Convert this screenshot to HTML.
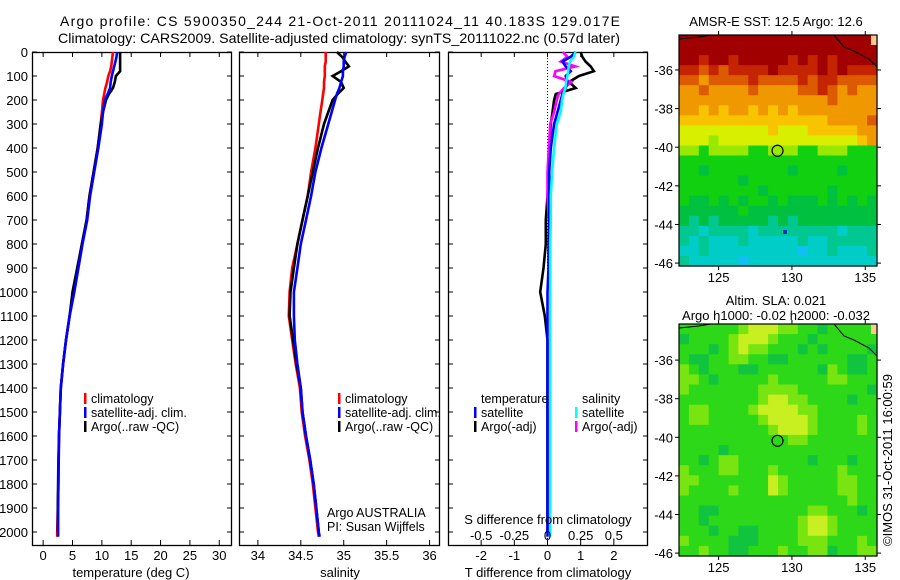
<!DOCTYPE html>
<html><head><meta charset="utf-8">
<style>
html,body{margin:0;padding:0;background:#fff;}
svg{display:block;font-family:"Liberation Sans",sans-serif;}
text{fill:#000;}
</style></head>
<body>
<svg id="fig" width="900" height="580" viewBox="0 0 900 580" xmlns="http://www.w3.org/2000/svg">
<text x="60" y="26" font-size="14" textLength="560" lengthAdjust="spacing">Argo profile: CS 5900350_244 21-Oct-2011 20111024_11 40.183S 129.017E</text>
<text x="58" y="43" font-size="14" textLength="562" lengthAdjust="spacingAndGlyphs">Climatology: CARS2009. Satellite-adjusted climatology: synTS_20111022.nc (0.57d later)</text>
<g id="plots"></g>
</svg>
<script>
// ---- data ----
const depths = [0,20,40,60,80,100,125,150,175,200,250,300,400,500,600,700,800,900,1000,1100,1200,1300,1400,1500,1600,1700,1800,1900,2000,2020];
const depthTicks = [0,100,200,300,400,500,600,700,800,900,1000,1100,1200,1300,1400,1500,1600,1700,1800,1900,2000];
const tempTicks = [0,5,10,15,20,25,30];
const salTicks = [34,34.5,35,35.5,36];
const salTickLabels = ["34","34.5","35","35.5","36"];
const tDiffTicks = [-2,-1,0,1,2];
const sDiffTicks = [-0.5,-0.25,0,0.25,0.5];
const sDiffTickLabels = ["-0.5","-0.25","0","0.25","0.5"];
const tClim = [11.9,11.8,11.7,11.6,11.4,11.1,10.9,10.6,10.4,10.2,10.0,9.8,9.3,8.6,7.9,7.4,6.6,5.9,5.2,4.5,3.9,3.4,3.0,2.85,2.7,2.65,2.6,2.5,2.4,2.4];
const tSat = [12.6,12.5,12.3,12.1,11.9,11.7,11.5,11.4,11.0,10.5,10.2,10.0,9.4,8.7,8.0,7.5,6.7,6.0,5.3,4.5,3.9,3.4,3.0,2.85,2.7,2.65,2.6,2.55,2.55,2.55];
const tArgo = [13.1,13.1,13.1,13.1,13.1,12.4,12.2,11.9,11.2,10.7,10.2,9.8,9.3,8.6,7.9,7.4,6.6,5.8,5.0,4.5,3.9,3.4,3.0,2.85,2.7,2.6,2.55,2.5,2.5,null];
const sClim = [34.79,34.79,34.79,34.78,34.78,34.78,34.77,34.77,34.76,34.75,34.73,34.71,34.67,34.62,34.58,34.52,34.46,34.40,34.37,34.36,34.40,34.44,34.49,34.51,34.55,34.60,34.64,34.67,34.70,34.71];
const sArgo = [34.92,34.98,35.02,35.06,34.97,34.87,34.97,35.0,34.93,34.87,34.82,34.77,34.70,34.64,34.58,34.52,34.46,34.42,34.38,34.37,34.41,34.45,34.50,34.52,34.56,34.61,34.65,34.68,34.71,null];
const sSat = [35.03,35.01,35.0,35.0,34.99,34.99,34.97,34.95,34.92,34.90,34.86,34.82,34.74,34.67,34.62,34.56,34.50,34.46,34.42,34.42,34.43,34.46,34.50,34.52,34.56,34.61,34.65,34.68,34.71,34.72];
const dTArgo = [1.0,1.05,1.15,1.3,1.4,0.95,0.65,0.85,0.25,0.2,0.15,0.1,0.05,0.03,0,-0.05,-0.05,-0.12,-0.22,-0.08,0,0,0,0,0,0,0,0,0,null];
const dTSat = [0.85,0.7,0.45,0.55,0.7,0.55,0.6,0.55,0.45,0.4,0.3,0.2,0.1,0.05,0.05,0.05,0.03,0.03,0,0,0,0,0,0,0,0,0,0,0,0];
const dSArgo = [0.115,0.15,0.1,0.21,0.06,0.05,0.18,0.125,0.085,0.07,0.05,0.02,0.01,0,0,0.01,0.02,0.02,0.02,0.02,0.02,0.02,0.02,0.02,0.02,0.02,0.02,0.02,0.02,null];
const dSSat = [0.21,0.2,0.17,0.16,0.155,0.15,0.14,0.135,0.12,0.11,0.1,0.07,0.05,0.035,0.025,0.025,0.02,0.02,0.02,0.02,0.02,0.02,0.02,0.02,0.02,0.02,0.02,0.02,0.02,0.02];
const lonTicks = [125,130,135];
const latTicks = [-36,-38,-40,-42,-44,-46];
const argoLon = 129.017, argoLat = -40.183;
const sstGrid = [
"00000000000000000000",
"00000000000000000000",
"00100100000101010000",
"11212111101111010111",
"22322221222212112222",
"33233332333322123233",
"33333333333333323333",
"33434334343433333333",
"44444444444444433332",
"55555555545554444433",
"55565555555555555543",
"66766667766677666777",
"77777777777777777777",
"77877777777877778777",
"77777787777777777777",
"77777777877777787777",
"78878787787888787878",
"88888878888888888888",
"89898888898988888888",
"99a9999a99999999a999",
"9a9aaa9aaaaa9aa99999",
"aa9aaaaaaaaabaa9aaa9",
"9aaaaabaaaaaaaaaaaaa"];
const slaGrid = [
"11111123332211011111",
"01111233321110111111",
"11101232211101011110",
"10011221100111111001",
"21011100111111021001",
"22101111121111122111",
"21111111222211111110",
"11111111233221111011",
"12211112333322111111",
"12211111233332111121",
"11111111123332111121",
"11111111111221111111",
"11110111111111111111",
"11012211111110111011",
"21112211121111112111",
"22111111132111112211",
"21111211132111112211",
"11111111111111111211",
"11001111111112211101",
"11011111111123321111",
"11101100111123321111",
"21111000111122211121",
"11211001112112201122"];

// ---- drawing ----
const NS="http://www.w3.org/2000/svg";
const root=document.getElementById('plots');
function el(tag,attrs,parent){const e=document.createElementNS(NS,tag);for(const k in attrs)e.setAttribute(k,attrs[k]);(parent||root).appendChild(e);return e;}
function txt(x,y,s,size,anchor,parent){const t=el('text',{x:x,y:y,'font-size':size,'text-anchor':anchor||'middle'},parent);t.textContent=s;return t;}

const Y0=52, Y1=545; const dMin=0;
function yD(d){return Y0+(d-dMin)*0.24;}

function panel(name,x0,x1,vmin,vmax){
  const g=el('g',{});
  
  
  const f=v=>x0+(v-vmin)/(vmax-vmin)*(x1-x0);
  const r=el('rect',{x:x0+0.5,y:Y0+0.5,width:x1-x0,height:Y1-Y0,fill:'none',stroke:'#000','stroke-width':1.3},g);
  
  
  depthTicks.forEach(d=>{
    el('line',{x1:x0,x2:x0+5,y1:yD(d),y2:yD(d),stroke:'#000'},g);
    el('line',{x1:x1-4,x2:x1+1,y1:yD(d),y2:yD(d),stroke:'#000'},g);
  });
  return {g,f};
}
function line(g,f,vals,color,name){
  let pts=[];
  vals.forEach((v,i)=>{if(v!==null)pts.push(f(v).toFixed(1)+','+yD(depths[i]).toFixed(1));});
  const p=el('polyline',{points:pts.join(' '),fill:'none',stroke:color,'stroke-width':2.6,'stroke-linejoin':'miter'},g);
  
  
}
function xticks(g,f,ticks,labels,y){
  ticks.forEach((t,i)=>{
    el('line',{x1:f(t),x2:f(t),y1:Y1,y2:Y1-5,stroke:'#000'},g);
    el('line',{x1:f(t),x2:f(t),y1:Y0,y2:Y0+5,stroke:'#000'},g);
    const l=txt(f(t),y,labels?labels[i]:String(t),13,'middle',g);
    
    
  });
}
function legendEntry(g,x,y,color,label,name){
  el('rect',{x:x,y:y-10,width:2.5,height:11,fill:color},g);
  const t=txt(x+7,y,label,12.5,'start',g);
  
  
}

// panel 1 temperature
const P1=panel('temperature-panel',32,231,-1.9,32.0);
line(P1.g,P1.f,tClim,'#ff0000','temp-climatology-line');
line(P1.g,P1.f,tArgo,'#000000','temp-argo-line');
line(P1.g,P1.f,tSat,'#0000ff','temp-satellite-line');
xticks(P1.g,P1.f,tempTicks,null,560);
depthTicks.forEach(d=>{const t=txt(28,yD(d)+5,String(d),13,'end',P1.g);
  
  });
const xt1=txt(131,577,'temperature (deg C)',13,'middle',P1.g);


legendEntry(P1.g,84,403,'#ff0000','climatology','legend-climatology');
legendEntry(P1.g,84,417,'#0000ff','satellite-adj. clim.','legend-satellite-adj');
legendEntry(P1.g,84,431,'#000000','Argo(..raw -QC)','legend-argo');

// panel 2 salinity
const P2=panel('salinity-panel',239,439,33.78,36.11);
line(P2.g,P2.f,sClim,'#ff0000','sal-climatology-line');
line(P2.g,P2.f,sArgo,'#000000','sal-argo-line');
line(P2.g,P2.f,sSat,'#0000ff','sal-satellite-line');
xticks(P2.g,P2.f,salTicks,salTickLabels,560);
const xt2=txt(340,577,'salinity',13,'middle',P2.g);


legendEntry(P2.g,338,403,'#ff0000','climatology','legend-climatology-2');
legendEntry(P2.g,338,417,'#0000ff','satellite-adj. clim.','legend-satellite-adj-2');
legendEntry(P2.g,338,431,'#000000','Argo(..raw -QC)','legend-argo-2');
const a1=txt(327,517,'Argo AUSTRALIA',12.5,'start',P2.g);


const a2=txt(327,531,'PI: Susan Wijffels',12.5,'start',P2.g);



// panel 3 differences
const P3=panel('difference-panel',448,647,-3,3);
const fS=v=>P3.f(v*4);
el('line',{x1:P3.f(0),x2:P3.f(0),y1:Y0,y2:Y1,stroke:'#000','stroke-dasharray':'1,2','stroke-width':1},P3.g);
line(P3.g,P3.f,dTArgo,'#000000','tdiff-argo-line');
line(P3.g,fS,dSArgo,'#ff00ff','sdiff-argo-line');
line(P3.g,P3.f,dTSat,'#0000ff','tdiff-satellite-line');
line(P3.g,fS,dSSat,'#00ffff','sdiff-satellite-line');
xticks(P3.g,P3.f,tDiffTicks,null,560);
sDiffTicks.forEach((t,i)=>{const l=txt(fS(t),540,sDiffTickLabels[i],13,'middle',P3.g);
  
  });
const st=txt(548,524,'S difference from climatology',13,'middle',P3.g);


const tt=txt(548,577,'T difference from climatology',13,'middle',P3.g);


const lt=txt(481,403,'temperature',12.5,'start',P3.g);


legendEntry(P3.g,474,417,'#0000ff','satellite','legend-t-satellite');
legendEntry(P3.g,474,431,'#000000','Argo(-adj)','legend-t-argo');
const ls=txt(582,403,'salinity',12.5,'start',P3.g);


legendEntry(P3.g,575,417,'#00ffff','satellite','legend-s-satellite');
legendEntry(P3.g,575,431,'#ff00ff','Argo(-adj)','legend-s-argo');

// maps
const sstColors={'0':'#a00000','1':'#c42400','2':'#dc5a00','3':'#f09800','4':'#f8c400','5':'#d8f000','6':'#98e800','7':'#10d010','8':'#00c040','9':'#00c890','a':'#00ccc8','b':'#10c0f0'};
const slaColors={'0':'#10c440','1':'#2cd818','2':'#78e410','3':'#c8f020'};
function map(name,grid,colors,top,bottom,latTop,latBot){
  const x0=679,x1=877,lonL=122.3,lonR=135.8;
  const g=el('g',{});
  
  
  const fx=v=>x0+(v-lonL)/(lonR-lonL)*(x1-x0);
  const fy=v=>top+(v-latTop)/(latBot-latTop)*(bottom-top);
  const rows=grid.length, cols=grid[0].length;
  const cw=(x1-x0)/cols, ch=(bottom-top)/rows;
  grid.forEach((row,r)=>{for(let c=0;c<cols;c++){
    el('rect',{x:(x0+c*cw).toFixed(2),y:(top+r*ch).toFixed(2),width:(cw+0.6).toFixed(2),height:(ch+0.6).toFixed(2),fill:colors[row[c]]},g);
  }});
  el('rect',{x:x1-6,y:top,width:6,height:10,fill:'#ffc890'},g);
  el('polyline',{points:`${x0},${top+4} ${x0+20},${top+2} ${x0+32},${top}`,fill:'none',stroke:'#000','stroke-width':1},g);
  el('polyline',{points:`${x0+155},${top} ${x0+165},${top+12} ${x0+175},${top+16} ${x0+190},${top+24} ${x1},${top+32}`,fill:'none',stroke:'#000','stroke-width':1},g);
  const fr=el('rect',{x:x0,y:top,width:x1-x0,height:bottom-top,fill:'none',stroke:'#000','stroke-width':1.2},g);
  
  
  lonTicks.forEach(l=>{
    el('line',{x1:fx(l),x2:fx(l),y1:bottom,y2:bottom+4,stroke:'#000'},g);
    el('line',{x1:fx(l),x2:fx(l),y1:top,y2:top-4,stroke:'#000'},g);
    const t=txt(fx(l),bottom+16,String(l),13,'middle',g);
    
    
  });
  latTicks.forEach(l=>{
    el('line',{x1:x0,x2:x0-4,y1:fy(l),y2:fy(l),stroke:'#000'},g);
    el('line',{x1:x1,x2:x1+4,y1:fy(l),y2:fy(l),stroke:'#000'},g);
    const t=txt(x0-6,fy(l)+5,String(l),13,'end',g);
    
    
  });
  const c=el('circle',{cx:fx(argoLon),cy:fy(argoLat),r:5.5,fill:'none',stroke:'#000','stroke-width':1.2},g);
  
  
  return g;
}
const m1=map('sst-map',sstGrid,sstColors,35,266,-34.19,-46.15);
const m1t=txt(776,26,'AMSR-E SST: 12.5 Argo: 12.6',13,'middle',m1);


el('rect',{x:783,y:230,width:4,height:4,fill:'#0030c0'},m1);
const m2=map('sla-map',slaGrid,slaColors,324,556,-34.13,-46.15);
const m2t=txt(776,305,'Altim. SLA: 0.021',13,'middle',m2);


const m2t2=txt(776,320,'Argo h1000: -0.02 h2000: -0.032',13,'middle',m2);


const cr=txt(0,0,'©IMOS 31-Oct-2011 16:00:59',13,'middle');
cr.setAttribute('transform','translate(892,460) rotate(-90)');


</script>
</body></html>
